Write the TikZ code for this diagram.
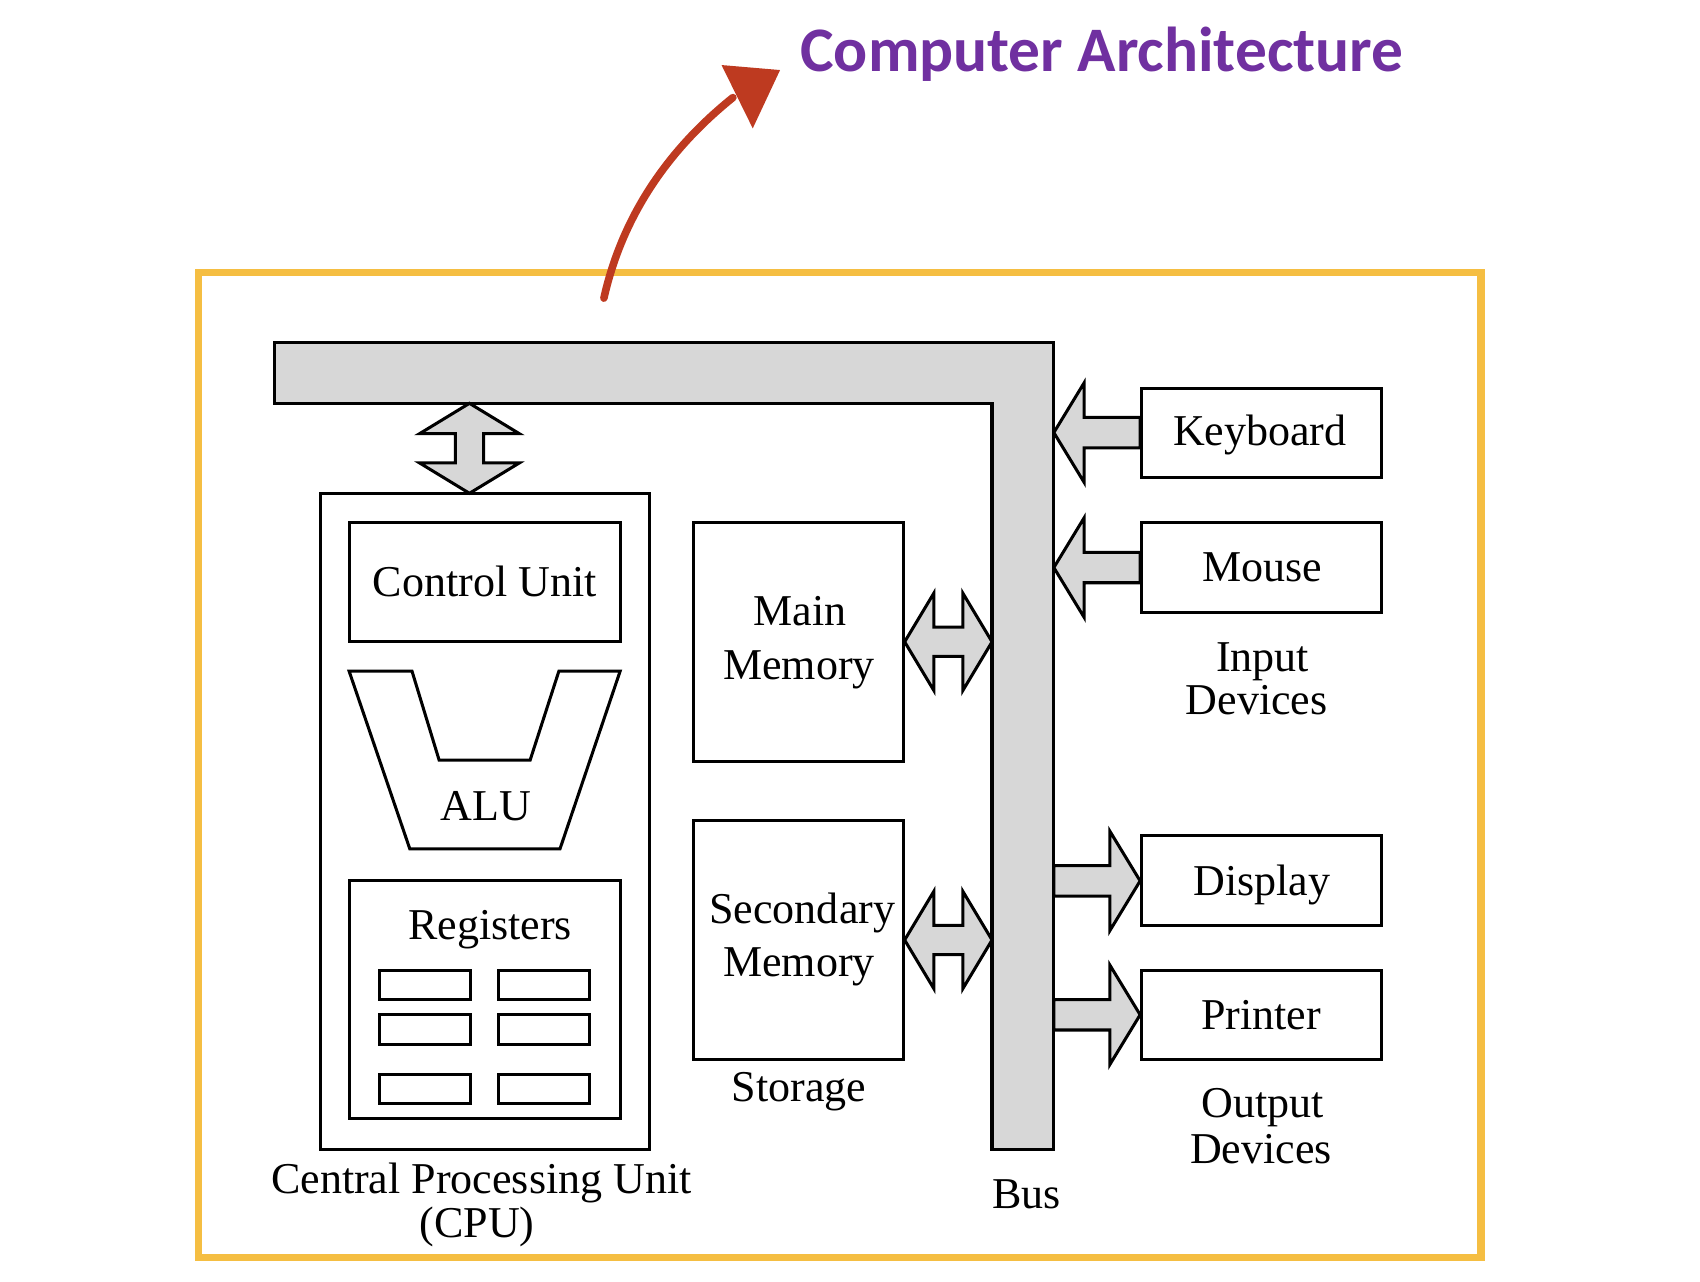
\documentclass[tikz,border=0pt]{standalone}
\usepackage{fontspec}
\setmainfont{Liberation Serif}
\newfontfamily\titlefont{Carlito}
\usetikzlibrary{calc}
\definecolor{frameyellow}{RGB}{245,190,66}
\definecolor{titlepurple}{RGB}{112,48,160}
\definecolor{arrowred}{RGB}{190,58,32}
\definecolor{busgray}{RGB}{215,215,215}
\begin{document}
\begin{tikzpicture}[x=1pt,y=-1pt,
  lbl/.style={inner sep=0pt, anchor=base, font=\fontsize{40.6}{44}\selectfont},
  box/.style={draw=black, line width=2.8pt, rectangle, inner sep=0pt},
  blk/.style={draw=black, line width=2.8pt, fill=busgray, line join=miter},
  cell/.style={box, minimum width=84pt, minimum height=27pt},
  dev/.style={box, minimum width=221pt, minimum height=82pt},
  mem/.style={box, minimum width=193pt, minimum height=220pt}]
\useasboundingbox (0,0) rectangle (1568,1182);

% frame
\node[draw=frameyellow, line width=6.5pt, minimum width=1183pt, minimum height=909pt, inner sep=0pt] (frame) at (774.5,705.5) {};

% title and red arrow
\node[anchor=base west, inner sep=0pt, text=titlepurple, font=\titlefont\bfseries\fontsize{58.5}{60}\selectfont] (title) at (738,66) {Computer Architecture};
\coordinate (arrStart) at (557,275);
\coordinate (arrEnd) at (676,90);
\draw[arrowred, line width=7pt, line cap=round] (arrStart) .. controls (575,195) and (620,135) .. (arrEnd);
\fill[arrowred] (665.5,60) -- (719.5,64.6) -- (694.3,118.4) -- cycle;

% bus
\draw[blk, line width=3pt] (253,316) -- (972,316) -- (972,1060) -- (915,1060) -- (915,372) -- (253,372) -- cycle;
\node[lbl] (buslbl) at (947,1115) {Bus};

% CPU
\node[box, minimum width=303pt, minimum height=605pt] (cpu) at (447.5,757.5) {};
\node[box, minimum width=250pt, minimum height=110pt] (cu) at (447,537) {};
\node[lbl] (cutext) at (447,550) {Control Unit};
\draw[line width=2.8pt] (322,619) -- (380,619) -- (405,701) -- (489,701) -- (515.5,619) -- (572,619) -- (516.5,783) -- (378,783) -- cycle;
\node[lbl] (alutext) at (448,757) {ALU};
\node[box, minimum width=250pt, minimum height=220pt] (reg) at (447,922) {};
\node[lbl] (regtext) at (452,867) {Registers};
\node[cell] (r11) at (392,908.5) {};
\node[cell] (r12) at (502,908.5) {};
\node[cell] (r21) at (392,949.5) {};
\node[cell] (r22) at (502,949.5) {};
\node[cell] (r31) at (392,1004.5) {};
\node[cell] (r32) at (502,1004.5) {};
\node[lbl] (cpul1) at (444,1101) {Central Processing Unit};
\node[lbl] (cpul2) at (440,1141) {(CPU)};

% CPU <-> bus
\coordinate (busV) at (433,372);
\coordinate (cpuV) at (433,455);
\draw[blk] (busV) -- ($(busV)+(46,28)$) -- ($(busV)+(13,28)$) -- ($(cpuV)+(13,-28)$) -- ($(cpuV)+(46,-28)$) -- (cpuV) -- ($(cpuV)+(-46,-28)$) -- ($(cpuV)+(-13,-28)$) -- ($(busV)+(-13,28)$) -- ($(busV)+(-46,28)$) -- cycle;

% memories
\node[mem] (mm) at (736.5,592) {};
\node[lbl] (mmt1) at (738,577) {Main};
\node[lbl] (mmt2) at (737,627) {Memory};
\node[mem] (sm) at (736.5,867) {};
\node[lbl] (smt1) at (740,852) {Secondary};
\node[lbl] (smt2) at (737,901) {Memory};
\node[lbl] (stor) at (737,1016) {Storage};

\coordinate (busMM) at (915,592);
\coordinate (busSM) at (915,867);
\foreach \b/\m in {mm/busMM, sm/busSM}{
  \draw[blk] (\b.east) -- ($(\b.east)+(27,-45)$) -- ($(\b.east)+(27,-13.5)$) -- ($(\m)+(-27,-13.5)$) -- ($(\m)+(-27,-45)$) -- (\m) -- ($(\m)+(-27,45)$) -- ($(\m)+(-27,13.5)$) -- ($(\b.east)+(27,13.5)$) -- ($(\b.east)+(27,45)$) -- cycle;
}

% devices
\node[dev] (kb) at (1163.5,399) {};
\node[lbl] (kbt) at (1162,410.5) {Keyboard};
\node[dev, minimum height=83pt] (ms) at (1163.5,523.5) {};
\node[lbl] (mst) at (1164,536) {Mouse};
\node[lbl] (in1) at (1164.5,619) {Input};
\node[lbl] (in2) at (1159,659) {Devices};
\node[dev, minimum height=83pt] (disp) at (1163.5,812.5) {};
\node[lbl] (dispt) at (1164,826) {Display};
\node[dev] (prn) at (1163.5,936) {};
\node[lbl] (prnt) at (1163,950) {Printer};
\node[lbl] (out1) at (1165,1031) {Output};
\node[lbl] (out2) at (1163,1073) {Devices};

\coordinate (busKB) at (972,399);
\coordinate (busMS) at (972,523.5);
\coordinate (busD) at (972,812.5);
\coordinate (busP) at (972,936);
\foreach \d/\c in {kb/busKB, ms/busMS}{
  \draw[blk] (\c) -- ($(\c)+(28,-46)$) -- ($(\c)+(28,-14)$) -- ($(\d.west)+(0,-14)$) -- ($(\d.west)+(0,14)$) -- ($(\c)+(28,14)$) -- ($(\c)+(28,46)$) -- cycle;
}
\foreach \d/\c in {disp/busD, prn/busP}{
  \draw[blk] ($(\c)+(0,-14)$) -- ($(\d.west)+(-28,-14)$) -- ($(\d.west)+(-28,-46)$) -- (\d.west) -- ($(\d.west)+(-28,46)$) -- ($(\d.west)+(-28,14)$) -- ($(\c)+(0,14)$) -- cycle;
}
\end{tikzpicture}
\end{document}
